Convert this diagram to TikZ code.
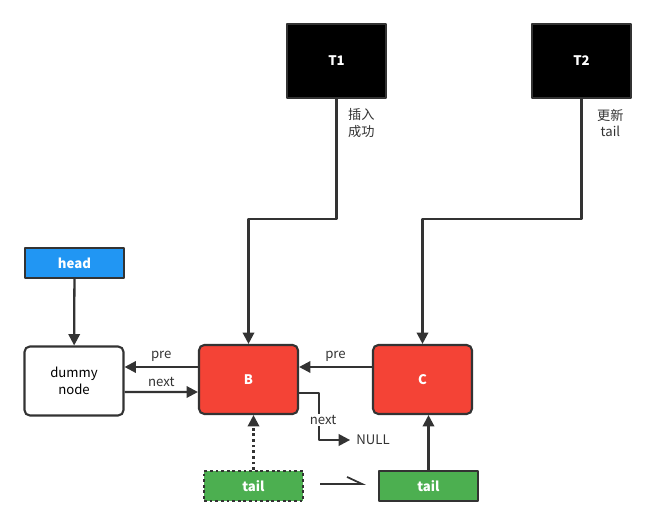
\documentclass[tikz,border=0pt]{standalone}
\usepackage{fontspec}
\setmainfont{Noto Sans CJK SC}
\usetikzlibrary{arrows.meta,calc}
\definecolor{boxred}{HTML}{F44336}
\definecolor{boxblue}{HTML}{2196F3}
\definecolor{boxgreen}{HTML}{4CAF50}
\definecolor{linegray}{HTML}{333333}

\begin{document}
\begin{tikzpicture}[x=0.02cm,y=-0.02cm,line join=round,
	font=\fontsize{7.5}{9.5}\selectfont,
	box/.style={draw=linegray,line width=1.2pt,minimum width=1.98cm,align=center},
	bigbox/.style={box,minimum height=1.38cm},
	smallbox/.style={box,minimum height=0.6cm,text=white,font=\fontsize{7.5}{9.5}\selectfont\bfseries},
	link/.style={draw=linegray,line width=1.3pt,-{Triangle[length=6.5pt,width=6.5pt]}},
	dotline/.style={dash pattern=on 1.6pt off 1.6pt}]
	\useasboundingbox (0,0) rectangle (656,526);
	% threads
	\node[box,minimum height=1.48cm,fill=black,text=white,font=\fontsize{7.5}{9.5}\selectfont\bfseries] (T1) at (336.5,61) {T1};
	\node[box,minimum height=1.48cm,fill=black,text=white,font=\fontsize{7.5}{9.5}\selectfont\bfseries] (T2) at (581.5,61) {T2};
	% list
	\node[smallbox,fill=boxblue] (head) at (74.5,263) {head};
	\node[bigbox,rounded corners=3pt,fill=white] (dummy) at (74,381) {dummy\\node};
	\node[bigbox,rounded corners=3pt,fill=boxred,text=white,font=\fontsize{7.5}{9.5}\selectfont\bfseries] (B) at (248.5,379.5) {B};
	\node[bigbox,rounded corners=3pt,fill=boxred,text=white,font=\fontsize{7.5}{9.5}\selectfont\bfseries] (C) at (422.5,379.5) {C};
	\node[text=linegray] (null) at (373,440) {NULL};
	\node[smallbox,fill=boxgreen,dotline] (tailold) at (253.5,486) {tail};
	\node[smallbox,fill=boxgreen] (tailnew) at (428.5,486) {tail};
	% connectors
	\draw[link] (T1.south) -- ++(0,120) -| (B.north);
	\draw[link] (T2.south) -- ++(0,120) -| (C.north);
	\node[anchor=west,align=left,text=linegray] (msg1) at (342,123) {插入\\成功};
	\node[anchor=west,align=center,text=linegray] (msg2) at (591,123) {更新\\tail};
	\draw[link] (head) -- (dummy);
	\draw[link] ($(B.west)+(0,-12.5)$) -- ($(dummy.east)+(0,-14)$) node[midway,above=-1pt,text=linegray] (pre1) {pre};
	\draw[link] ($(dummy.east)+(0,11)$) -- ($(B.west)+(0,12.5)$) node[midway,above=-1pt,text=linegray] (next1) {next};
	\draw[link] ($(C.west)+(0,-12.5)$) -- ($(B.east)+(0,-12.5)$) node[midway,above=-1pt,text=linegray] (pre2) {pre};
	\draw[link] ($(B.east)+(0,13.5)$) -| ($(null.west)+(-31,0)$) -- (null.west);
	\node[fill=white,inner sep=1pt,text=linegray] (next2) at (323,420) {next};
	\draw[link,dotline] (tailold.north) -- (tailold.north |- B.south);
	\draw[link] (tailnew.north) -- (tailnew.north |- C.south);
	\draw[draw=linegray,line width=1pt,-{Straight Barb[harpoon,length=8.5pt,width=8pt]}] ($(tailold.east)+(16,-2)$) -- ($(tailnew.west)+(-12,-2)$);
\end{tikzpicture}
\end{document}
